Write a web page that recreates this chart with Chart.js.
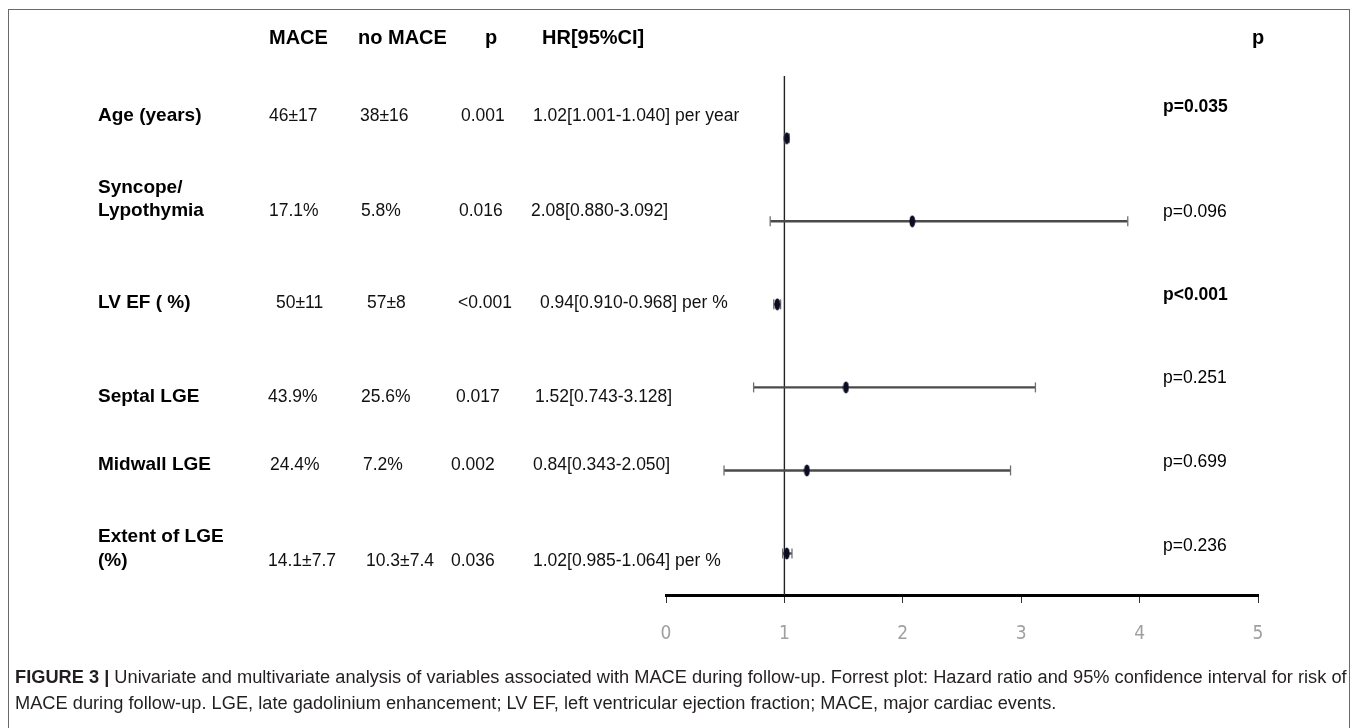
<!DOCTYPE html>
<html>
<head>
<meta charset="utf-8">
<script src="https://cdn.jsdelivr.net/npm/chart.js@4.4.1/dist/chart.umd.min.js"></script>
<style>
  html, body { margin: 0; padding: 0; background: #fff; }
  #wrap { position: relative; width: 1357px; height: 728px; overflow: hidden; }
  #forestChart { position: absolute; left: 0; top: 0; }
  #frame {
    position: absolute; left: 8px; top: 9px; width: 1342px; height: 740px;
    border: 1.5px solid #6a6a6a; box-sizing: border-box;
  }
  .cap {
    position: absolute; left: 15px; white-space: nowrap; transform-origin: 0 50%;
    font-family: 'Liberation Sans Narrow', 'Liberation Sans', Arial, sans-serif;
    font-size: 18px; color: #231f20; line-height: 20px;
  }
  .cap b { font-weight: bold; }
</style>
</head>
<body>
<div id="wrap">
  <div id="frame"></div>
  <canvas id="forestChart" width="1357" height="728"></canvas>
  <div class="cap" id="cap1" style="top:667px"><b>FIGURE 3 |</b> Univariate and multivariate analysis of variables associated with MACE during follow-up. Forrest plot: Hazard ratio and 95% confidence interval for risk of</div>
  <div class="cap" id="cap2" style="top:693px">MACE during follow-up. LGE, late gadolinium enhancement; LV EF, left ventricular ejection fraction; MACE, major cardiac events.</div>
</div>
<script>
// ---- data ----
const rowLabels = [['Age (years)'], ['Syncope/', 'Lypothymia'], ['LV EF ( %)'], ['Septal LGE'], ['Midwall LGE'], ['Extent of LGE', '(%)']];
const maceValues = ['46\u00b117', '17.1%', '50\u00b111', '43.9%', '24.4%', '14.1\u00b17.7'];
const noMaceValues = ['38\u00b116', '5.8%', '57\u00b18', '25.6%', '7.2%', '10.3\u00b17.4'];
const univariateP = ['0.001', '0.016', '<0.001', '0.017', '0.002', '0.036'];
const hrLabels = ['1.02[1.001-1.040] per year', '2.08[0.880-3.092]', '0.94[0.910-0.968] per %', '1.52[0.743-3.128]', '0.84[0.343-2.050]', '1.02[0.985-1.064] per %'];
const hrPoint = [1.02, 2.08, 0.94, 1.52, 1.19, 1.02];
const ciLow = [1.001, 0.88, 0.91, 0.74, 0.49, 0.985];
const ciHigh = [1.04, 3.90, 0.968, 3.12, 2.91, 1.064];
const multivariateP = ['p=0.035', 'p=0.096', 'p<0.001', 'p=0.251', 'p=0.699', 'p=0.236'];
const significant = [true, false, true, false, false, false];
const xTicks = [0, 1, 2, 3, 4, 5];
const headers = ['MACE', 'no MACE', 'p', 'HR[95%CI]'];

// ---- layout of the text table (pixels) ----
const layout = {
  headerY: 38,
  headerX: [269, 358, 485, 542],
  rightHeaderX: 1252,
  labelX: 98,
  labelY: [[116], [188, 211], [303], [397], [465], [537, 561]],
  valueY: [116, 211, 303, 397, 465, 561],
  maceX: [269, 269, 276, 268, 270, 268],
  noMaceX: [360, 361, 367, 361, 363, 366],
  pX: [461, 459, 458, 456, 451, 451],
  hrX: [533, 531, 540, 535, 533, 533],
  rightPX: 1163,
  rightPY: [107, 212, 295, 378, 462, 546]
};

const FONT = "'Liberation Sans', Arial, sans-serif";

// small vertical ellipse used as the HR marker
const marker = document.createElement('canvas');
marker.width = 7;
marker.height = 13;
(function() {
  const m = marker.getContext('2d');
  m.fillStyle = '#0b0b22';
  m.beginPath();
  m.ellipse(3.5, 6.5, 2.9, 6, 0, 0, Math.PI * 2);
  m.fill();
})();

const datasets = [];

// hazard ratio points
datasets.push({
  type: 'scatter',
  data: hrPoint.map((v, i) => ({ x: v, y: i })),
  pointStyle: marker,
  pointRadius: 6,
  order: 0,
  clip: false
});

// confidence intervals
hrPoint.forEach((v, i) => {
  datasets.push({
    type: 'line',
    data: [{ x: ciLow[i], y: i }, { x: ciHigh[i], y: i }],
    borderColor: '#4a4a4a',
    borderWidth: 2.4,
    pointStyle: 'line',
    rotation: 90,
    pointRadius: 5,
    pointBorderWidth: 1.3,
    pointBorderColor: '#707070',
    order: 1,
    clip: false
  });
});

// reference line at HR = 1
datasets.push({
  type: 'line',
  data: [{ x: 1, y: -0.75 }, { x: 1, y: 5.5 }],
  borderColor: '#222',
  borderWidth: 1.4,
  pointRadius: 0,
  order: 2,
  clip: false
});

// table text drawn relative to the chart
const tablePlugin = {
  id: 'tableText',
  afterDraw(chart) {
    const ctx = chart.ctx;
    ctx.save();
    ctx.textBaseline = 'middle';
    ctx.textAlign = 'left';
    ctx.fillStyle = '#000';

    ctx.font = 'bold 20px ' + FONT;
    headers.forEach((h, k) => ctx.fillText(h, layout.headerX[k], layout.headerY));
    ctx.fillText('p', layout.rightHeaderX, layout.headerY);

    rowLabels.forEach((lines, i) => {
      ctx.font = 'bold 19px ' + FONT;
      ctx.fillStyle = '#000';
      lines.forEach((t, j) => ctx.fillText(t, layout.labelX, layout.labelY[i][j]));

      ctx.font = '17.5px ' + FONT;
      ctx.fillStyle = '#111';
      const y = layout.valueY[i];
      ctx.fillText(maceValues[i], layout.maceX[i], y);
      ctx.fillText(noMaceValues[i], layout.noMaceX[i], y);
      ctx.fillText(univariateP[i], layout.pX[i], y);
      ctx.fillText(hrLabels[i], layout.hrX[i], y);

      ctx.font = (significant[i] ? 'bold ' : '') + '17.5px ' + FONT;
      ctx.fillStyle = '#000';
      ctx.fillText(multivariateP[i], layout.rightPX, layout.rightPY[i]);
    });
    ctx.restore();
  }
};

const ctx = document.getElementById('forestChart').getContext('2d');
new Chart(ctx, {
  data: { datasets: datasets },
  options: {
    responsive: false,
    animation: false,
    devicePixelRatio: 1,
    layout: { padding: { left: 666, right: 99, top: 76, bottom: 73 } },
    plugins: { legend: { display: false }, tooltip: { enabled: false } },
    scales: {
      x: {
        type: 'linear',
        position: 'bottom',
        min: 0,
        max: 5,
        afterBuildTicks: (scale) => { scale.ticks = xTicks.map(v => ({ value: v })); },
        afterFit: (scale) => { scale.height = 60; },
        border: { display: true, color: '#000', width: 3 },
        grid: { display: true, drawOnChartArea: false, drawTicks: true, tickLength: 8, color: '#333', lineWidth: 1 },
        ticks: {
          color: '#a0a0a0',
          padding: 20,
          font: { family: "'Liberation Sans Narrow', 'DejaVu Sans Condensed', sans-serif", size: 19 }
        }
      },
      y: {
        type: 'linear',
        display: false,
        reverse: true,
        min: -0.75,
        max: 5.5
      }
    }
  },
  plugins: [tablePlugin]
});

// fit the caption to the width of the figure
const cap1 = document.getElementById('cap1');
const cap2 = document.getElementById('cap2');
const k = 1332 / cap1.scrollWidth;
cap1.style.transform = 'scaleX(' + k + ')';
cap2.style.transform = 'scaleX(' + k + ')';
</script>
</body>
</html>
